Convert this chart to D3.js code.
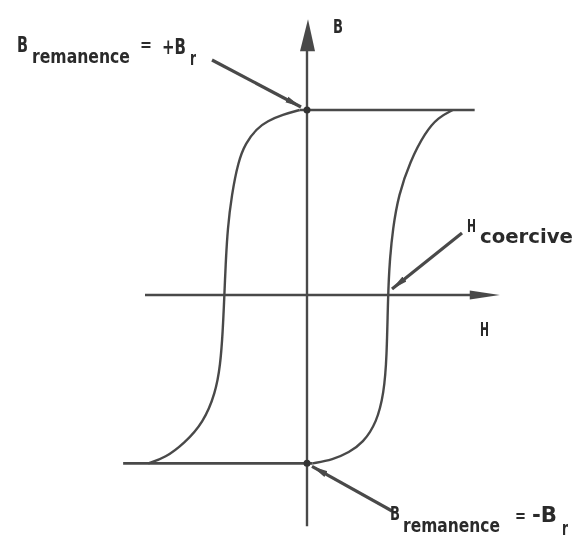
<!DOCTYPE html>
<html>
<head>
<meta charset="utf-8">
<script src="https://cdn.jsdelivr.net/npm/d3@7"></script>
<style>
  html, body { margin: 0; padding: 0; background: #fff; }
  svg text { font-family: "Liberation Sans Narrow", "DejaVu Sans Condensed", "Roboto", sans-serif; font-weight: bold; fill: #2b2b2b; }
</style>
</head>
<body>
<div id="chart"></div>
<script>
// Hysteresis loop (H in units of coercive field, B in units of +Br)
const leftBranchH = [-0.09, -0.30, -0.49, -0.62, -0.76, -0.85, -0.93, -0.98, -1.005, -1.02, -1.04, -1.07, -1.13, -1.28, -1.51, -1.75, -1.96];
const leftBranchB = [1.0, 0.975, 0.94, 0.90, 0.82, 0.72, 0.54, 0.36, 0.16, 0.0, -0.20, -0.38, -0.53, -0.69, -0.80, -0.88, -0.91];
const rightBranchH = [0.07, 0.32, 0.52, 0.69, 0.86, 0.95, 0.985, 1.0, 1.02, 1.06, 1.13, 1.27, 1.46, 1.62, 1.80];
const rightBranchB = [-0.91, -0.89, -0.85, -0.80, -0.69, -0.53, -0.34, 0.0, 0.18, 0.36, 0.54, 0.72, 0.88, 0.96, 1.0];
const topSaturationH = [-0.09, 2.07];
const bottomSaturationH = [-2.27, 0.07];
const remanenceB = [1.0, -0.91];
const coerciveH = 1.0;
const axisH = [-2.0, 2.38];
const axisB = [-1.25, 1.49];

const width = 581, height = 547;

const x = d3.scaleLinear().domain([-1, 1]).range([226, 388]);
const y = d3.scaleLinear().domain([-1, 1]).range([480, 110]);

const svg = d3.select("#chart")
    .append("svg")
    .attr("width", width)
    .attr("height", height);

const defs = svg.append("defs");
defs.append("filter").attr("id", "soft")
    .append("feGaussianBlur").attr("stdDeviation", 0.55);

defs.append("marker")
    .attr("id", "leader")
    .attr("viewBox", "0 0 16 8")
    .attr("refX", 16).attr("refY", 4)
    .attr("markerWidth", 16).attr("markerHeight", 8)
    .attr("markerUnits", "userSpaceOnUse")
    .attr("orient", "auto")
    .append("path")
    .attr("d", "M0,0.8 L16,4 L0,7.2 Z")
    .attr("fill", "#4a4a4a");

const ink = "#4a4a4a";
const g = svg.append("g").attr("filter", "url(#soft)");

// axes (plain arrows through the origin)
g.append("line")
    .attr("x1", x(axisH[0])).attr("x2", x(axisH[1]) - 20)
    .attr("y1", y(0)).attr("y2", y(0))
    .attr("stroke", ink).attr("stroke-width", 2.4);
g.append("path")
    .attr("d", `M${x(axisH[1])},${y(0)} L${x(axisH[1]) - 30},${y(0) - 4.5} L${x(axisH[1]) - 30},${y(0) + 4.5} Z`)
    .attr("fill", ink);

g.append("line")
    .attr("x1", x(0)).attr("x2", x(0))
    .attr("y1", y(axisB[0])).attr("y2", y(axisB[1]) + 25)
    .attr("stroke", ink).attr("stroke-width", 2.4);
g.append("path")
    .attr("d", `M${x(0) + 1},${y(axisB[1])} L${x(0) - 7},${y(axisB[1]) + 32} L${x(0) + 8},${y(axisB[1]) + 32} Z`)
    .attr("fill", ink);

// loop branches, smoothed with a B-spline
const line = d3.line()
    .x(d => x(d[0]))
    .y(d => y(d[1]))
    .curve(d3.curveBasis);

const leftPts = leftBranchH.map((h, i) => [h, leftBranchB[i]]);
const rightPts = rightBranchH.map((h, i) => [h, rightBranchB[i]]);

[leftPts, rightPts].forEach(pts => {
    g.append("path")
        .attr("d", line(pts))
        .attr("fill", "none")
        .attr("stroke", ink)
        .attr("stroke-width", 2.4);
});

g.append("line")
    .attr("x1", x(topSaturationH[0])).attr("x2", x(topSaturationH[1]))
    .attr("y1", y(remanenceB[0])).attr("y2", y(remanenceB[0]))
    .attr("stroke", ink).attr("stroke-width", 2.6);
g.append("line")
    .attr("x1", x(bottomSaturationH[0])).attr("x2", x(bottomSaturationH[1]))
    .attr("y1", y(remanenceB[1])).attr("y2", y(remanenceB[1]))
    .attr("stroke", ink).attr("stroke-width", 2.6);

// remanence points
g.selectAll(".rem")
    .data(remanenceB)
    .enter()
    .append("circle")
    .attr("class", "rem")
    .attr("cx", x(0))
    .attr("cy", d => y(d))
    .attr("r", 3.5)
    .attr("fill", "#333");

// leader arrows from labels to points
const leaders = [
    { from: [212, 60], to: [x(0) - 6, y(remanenceB[0]) - 3] },
    { from: [462, 233], to: [x(coerciveH) + 4, y(0) - 6] },
    { from: [392, 511], to: [x(0) + 5, y(remanenceB[1]) + 3] }
];
g.selectAll(".leader")
    .data(leaders)
    .enter()
    .append("line")
    .attr("class", "leader")
    .attr("x1", d => d.from[0]).attr("y1", d => d.from[1])
    .attr("x2", d => d.to[0]).attr("y2", d => d.to[1])
    .attr("stroke", ink)
    .attr("stroke-width", 3.2)
    .attr("marker-end", "url(#leader)");

// labels: condensed by a horizontal scale so each piece fills its width
const t = svg.append("g").attr("filter", "url(#soft)");

function label(parts) {
    parts.forEach(p => {
        const s = t.append("text")
            .attr("x", 0).attr("y", 0)
            .style("font-size", (p.size || 20) + "px")
            .text(p.s);
        const w = s.node().getComputedTextLength();
        const sx = p.len ? p.len / w : 1;
        s.attr("transform", `translate(${p.x},${p.y}) scale(${sx},1)`);
    });
}

label([
    { s: "B", x: 17, y: 52, size: 21, len: 11 },
    { s: "remanence", x: 32, y: 63, len: 98 },
    { s: "=", x: 140, y: 51, size: 18, len: 12 },
    { s: "+B", x: 162, y: 54, size: 21, len: 24 },
    { s: "r", x: 190, y: 65, len: 6 }
]);

label([
    { s: "H", x: 467, y: 232, size: 18, len: 9 },
    { s: "coercive", x: 480, y: 243, len: 93 }
]);

label([
    { s: "B", x: 390, y: 520, size: 20, len: 10 },
    { s: "remanence", x: 403, y: 532, len: 97 },
    { s: "=", x: 515, y: 522, size: 18, len: 11 },
    { s: "-B", x: 532, y: 522, size: 21, len: 25 },
    { s: "r", x: 562, y: 535, len: 6 }
]);

// axis names
label([
    { s: "B", x: 333, y: 33, size: 20, len: 10 },
    { s: "H", x: 480, y: 336, size: 19, len: 9 }
]);
</script>
</body>
</html>
